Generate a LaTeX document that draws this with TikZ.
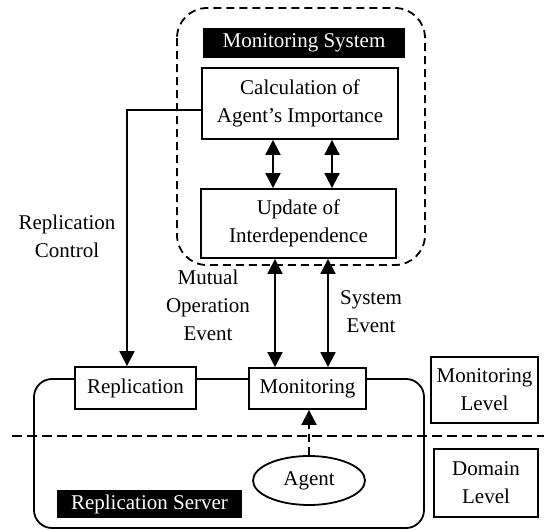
\documentclass[tikz,border=0pt]{standalone}
\usepackage{fontspec}
\setmainfont{Liberation Serif}
\usetikzlibrary{arrows.meta,shapes.geometric}
\begin{document}
\begin{tikzpicture}[x=1pt,y=-1pt,
  every node/.style={font=\fontsize{21}{28}\selectfont, inner sep=0pt, align=center},
  box/.style={draw, line width=1.8pt, fill=white, rectangle},
  blackbox/.style={fill=black, text=white, rectangle},
  lbl/.style={},
  ln/.style={line width=1.8pt},
  tip/.style={-{Triangle[length=15pt,width=15pt]}},
  dbl/.style={{Triangle[length=15pt,width=15pt]}-{Triangle[length=15pt,width=15pt]}},
  dsh/.style={dash pattern=on 8pt off 5pt}]
\useasboundingbox (0,0) rectangle (544,530);
% containers
\draw[ln,dsh,rounded corners=30pt] (177,8) rectangle (425,265);
\draw[ln,rounded corners=18pt] (34,379) rectangle (424,528);
\draw[ln,dash pattern=on 10pt off 5pt] (12,436) -- (544,436);
% nodes
\node[blackbox, minimum width=202pt, minimum height=30pt] (ms) at (304,43) {Monitoring System};
\node[box, minimum width=196pt, minimum height=71pt] (calc) at (300,103.5) {Calculation of\\Agent’s Importance};
\node[box, minimum width=195pt, minimum height=69pt] (upd) at (298.5,223.5) {Update of\\Interdependence};
\node[box, minimum width=121pt, minimum height=42pt] (rep) at (135.5,388) {Replication};
\node[box, minimum width=117pt, minimum height=41pt] (mon) at (307.5,388.5) {Monitoring};
\node[draw, ellipse, line width=1.8pt, fill=white, minimum width=112pt, minimum height=49pt] (agent) at (309,480.5) {Agent};
\node[blackbox, minimum width=185pt, minimum height=28pt] (rs) at (149.5,504) {Replication Server};
\node[box, minimum width=107pt, minimum height=66pt] (ml) at (484.5,390) {Monitoring\\Level};
\node[box, minimum width=104pt, minimum height=68pt] (dl) at (486,483) {Domain\\Level};
% labels
\node[lbl] (rc) at (67,236) {Replication\\Control};
\node[lbl] (moe) at (208,305) {Mutual\\Operation\\Event};
\node[lbl] (se) at (371,312) {System\\Event};
% connectors
\draw[ln,dbl] (calc.south -| 273,0) -- (upd.north -| 273,0);
\draw[ln,dbl] (calc.south -| 332,0) -- (upd.north -| 332,0);
\draw[ln,dbl] (upd.south -| 275,0) -- (mon.north -| 275,0);
\draw[ln,dbl] (upd.south -| 328,0) -- (mon.north -| 328,0);
\draw[ln,tip] (calc.west |- 0,110) -- (127,110) -- (rep.north -| 127,0);
\draw[ln,dsh,tip] (agent.north) -- (mon.south -| agent.north);
\end{tikzpicture}
\end{document}
